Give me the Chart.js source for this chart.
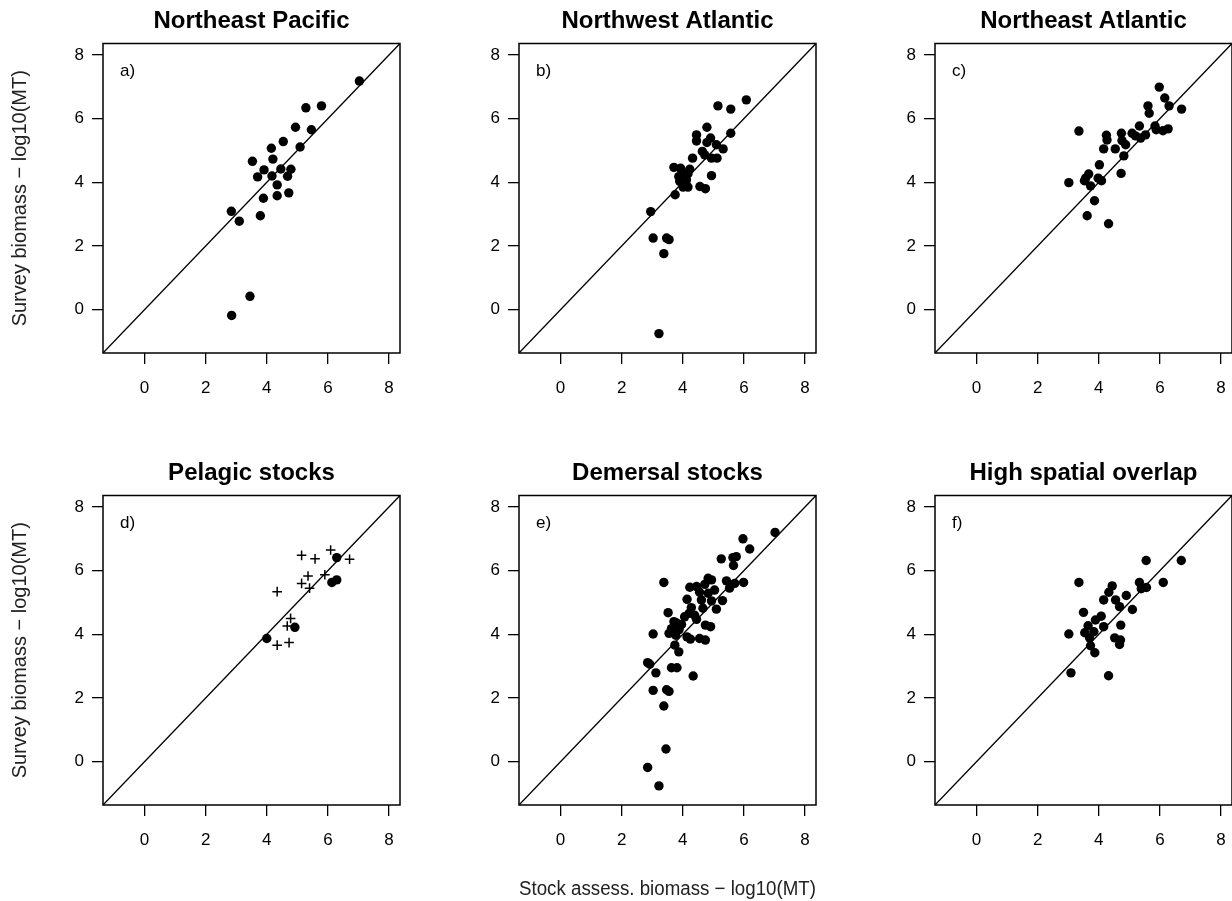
<!DOCTYPE html>
<html>
<head>
<meta charset="utf-8">
<title>Survey vs stock assessment biomass</title>
<script src="https://cdn.jsdelivr.net/npm/chart.js@4.4.0/dist/chart.umd.min.js"></script>
<style>
  body { margin: 0; background: #fff; width: 1232px; height: 901px; overflow: hidden; position: relative; }
  canvas { position: absolute; }
</style>
</head>
<body>
<canvas id="pa" width="503" height="452" style="left:0;top:0"></canvas>
<canvas id="pb" width="503" height="452" style="left:416px;top:0"></canvas>
<canvas id="pc" width="503" height="452" style="left:832px;top:0"></canvas>
<canvas id="pd" width="503" height="452" style="left:0;top:452px"></canvas>
<canvas id="pe" width="503" height="452" style="left:416px;top:452px"></canvas>
<canvas id="pf" width="503" height="452" style="left:832px;top:452px"></canvas>
<script>
// axis limits and ticks (same on every panel)
const axisMin = -1.36;
const axisMax = 8.36;
const tickValues = [0, 2, 4, 6, 8];
const letterX = -0.8;
const letterY = 7.5;

const xAxisTitle = 'Stock assess. biomass \u2212 log10(MT)';
const yAxisTitle = 'Survey biomass \u2212 log10(MT)';

// a) Northeast Pacific
const nePacificX = [7.03, 5.28, 5.79, 4.94, 5.46, 4.54, 5.09, 4.15, 4.20, 3.53, 3.91, 4.46, 4.79, 3.70, 4.17, 4.68, 4.34, 4.34, 4.72, 3.89, 2.84, 3.10, 3.79, 3.45, 2.85];
const nePacificY = [7.18, 6.34, 6.40, 5.73, 5.65, 5.28, 5.11, 5.07, 4.73, 4.66, 4.39, 4.42, 4.41, 4.17, 4.20, 4.19, 3.92, 3.58, 3.67, 3.50, 3.09, 2.78, 2.95, 0.42, -0.18];

// b) Northwest Atlantic
const nwAtlanticX = [6.08, 5.15, 5.57, 4.79, 4.45, 5.57, 4.45, 4.91, 4.79, 5.10, 5.32, 4.64, 4.72, 4.94, 5.12, 4.32, 3.71, 3.93, 4.23, 4.17, 3.87, 4.03, 4.94, 3.90, 4.10, 4.01, 4.17, 4.56, 4.74, 3.75, 2.95, 3.03, 3.47, 3.55, 3.38, 3.22, 3.98, 4.12];
const nwAtlanticY = [6.59, 6.40, 6.30, 5.73, 5.49, 5.54, 5.30, 5.39, 5.25, 5.18, 5.05, 4.97, 4.86, 4.76, 4.76, 4.76, 4.47, 4.44, 4.41, 4.27, 4.18, 4.13, 4.21, 4.03, 3.97, 3.85, 3.85, 3.87, 3.80, 3.61, 3.08, 2.25, 2.25, 2.20, 1.76, -0.75, 4.30, 4.08];

// c) Northeast Atlantic
const neAtlanticX = [5.98, 6.16, 5.61, 6.30, 6.71, 5.65, 3.35, 4.25, 4.74, 5.09, 5.33, 5.53, 5.84, 5.88, 6.10, 6.27, 5.37, 5.20, 4.27, 4.76, 4.88, 4.16, 4.54, 4.82, 4.02, 4.73, 3.67, 3.53, 3.98, 4.09, 3.02, 3.73, 3.86, 3.62, 4.32, 3.57];
const neAtlanticY = [6.99, 6.65, 6.40, 6.40, 6.30, 6.17, 5.61, 5.48, 5.54, 5.54, 5.77, 5.49, 5.77, 5.65, 5.62, 5.68, 5.39, 5.46, 5.33, 5.31, 5.18, 5.05, 5.05, 4.83, 4.55, 4.28, 4.26, 4.05, 4.13, 4.05, 3.99, 3.89, 3.42, 2.95, 2.70, 4.13];

// d) Pelagic stocks: crosses and dots
const pelagicCrossX = [5.14, 5.58, 6.09, 6.71, 5.35, 5.90, 5.14, 5.40, 4.34, 4.78, 4.67, 4.34, 4.73];
const pelagicCrossY = [6.48, 6.37, 6.65, 6.36, 5.83, 5.87, 5.60, 5.45, 5.34, 4.50, 4.26, 3.66, 3.74];
const pelagicDotX = [6.29, 6.13, 6.29, 4.92, 4.00];
const pelagicDotY = [6.41, 5.63, 5.71, 4.22, 3.87];

// e) Demersal stocks
const demersalX = [7.02, 5.97, 6.19, 5.26, 5.64, 5.75, 5.66, 3.38, 4.83, 4.94, 5.43, 5.99, 5.70, 4.23, 4.45, 4.72, 5.53, 4.55, 4.83, 5.04, 4.14, 4.61, 4.94, 5.30, 4.28, 4.66, 5.10, 3.52, 4.21, 4.45, 3.71, 3.96, 4.74, 4.91, 3.63, 3.88, 3.03, 3.55, 3.77, 4.14, 4.25, 4.55, 4.74, 3.74, 3.87, 2.85, 2.92, 3.12, 3.63, 3.81, 4.34, 3.03, 3.47, 3.55, 3.38, 3.45, 2.85, 3.22, 3.79, 4.06, 4.39];
const demersalY = [7.20, 7.00, 6.68, 6.37, 6.41, 6.44, 6.16, 5.63, 5.76, 5.71, 5.68, 5.63, 5.60, 5.48, 5.50, 5.57, 5.45, 5.32, 5.29, 5.39, 5.10, 5.08, 5.05, 5.06, 4.84, 4.82, 4.79, 4.68, 4.66, 4.47, 4.40, 4.31, 4.29, 4.24, 4.18, 4.15, 4.01, 4.03, 3.97, 3.92, 3.85, 3.87, 3.82, 3.66, 3.45, 3.11, 3.06, 2.79, 2.95, 2.95, 2.69, 2.24, 2.26, 2.21, 1.75, 0.40, -0.18, -0.76, 4.36, 4.55, 4.60];

// f) High spatial overlap
const overlapX = [5.55, 6.70, 3.35, 4.44, 5.33, 6.11, 5.39, 5.56, 4.33, 4.90, 4.16, 4.55, 4.68, 5.10, 3.50, 4.08, 3.89, 3.65, 4.16, 4.72, 3.02, 3.54, 3.84, 3.70, 4.52, 4.71, 4.68, 3.73, 3.87, 3.09, 4.32];
const overlapY = [6.32, 6.32, 5.63, 5.52, 5.63, 5.63, 5.43, 5.47, 5.32, 5.22, 5.08, 5.08, 4.87, 4.78, 4.69, 4.57, 4.45, 4.27, 4.24, 4.29, 4.01, 4.05, 4.08, 3.89, 3.89, 3.82, 3.68, 3.64, 3.42, 2.79, 2.70];

const FONT = '"Liberation Sans", Arial, sans-serif';

function toPoints(xs, ys) {
  return xs.map((x, i) => ({ x: x, y: ys[i] }));
}

// box around plot region + panel letter
const boxPlugin = {
  id: 'box',
  afterDraw(chart, args, opts) {
    const { ctx, chartArea: a, scales } = chart;
    ctx.save();
    ctx.strokeStyle = '#000';
    ctx.lineWidth = 1.5;
    ctx.strokeRect(a.left, a.top, a.right - a.left, a.bottom - a.top);
    ctx.font = '17px ' + FONT;
    ctx.fillStyle = '#000';
    ctx.textBaseline = 'middle';
    ctx.fillText(opts.letter, scales.x.getPixelForValue(letterX), scales.y.getPixelForValue(letterY));
    ctx.restore();
  }
};

function dotSet(points) {
  return {
    data: points,
    backgroundColor: '#000',
    borderWidth: 0,
    pointRadius: 4.7,
    order: 1
  };
}

function makePanel(id, title, letter, sets, showYTitle, showXTitle) {
  const diagonal = {
    data: [{ x: axisMin, y: axisMin }, { x: axisMax, y: axisMax }],
    showLine: true,
    pointRadius: 0,
    borderColor: '#000',
    borderWidth: 1.3,
    order: 2
  };
  return new Chart(document.getElementById(id), {
    type: 'scatter',
    data: { datasets: [diagonal].concat(sets) },
    plugins: [boxPlugin],
    options: {
      responsive: false,
      devicePixelRatio: 1,
      animation: false,
      layout: { padding: 0 },
      plugins: {
        legend: { display: false },
        tooltip: { enabled: false },
        title: {
          display: true,
          text: title,
          color: '#000',
          font: { family: FONT, size: 24, weight: 'bold' },
          padding: { top: 7, bottom: 7.7 }
        },
        box: { letter: letter }
      },
      scales: {
        x: {
          type: 'linear',
          min: axisMin,
          max: axisMax,
          afterBuildTicks: (s) => { s.ticks = tickValues.map(v => ({ value: v })); },
          afterFit: (s) => { s.height = 99; },
          grid: { drawOnChartArea: false, drawTicks: true, tickLength: 11, color: '#000', lineWidth: 1.3 },
          border: { display: false },
          ticks: { color: '#000', padding: 14, font: { family: FONT, size: 17 }, maxRotation: 0 },
          title: {
            display: showXTitle,
            text: xAxisTitle,
            color: '#222',
            font: { family: FONT, size: 20 },
            padding: { top: 0, bottom: 3 }
          }
        },
        y: {
          type: 'linear',
          min: axisMin,
          max: axisMax,
          afterBuildTicks: (s) => { s.ticks = tickValues.map(v => ({ value: v })); },
          afterFit: (s) => { s.width = 103; },
          grid: { drawOnChartArea: false, drawTicks: true, tickLength: 11, color: '#000', lineWidth: 1.3 },
          border: { display: false },
          ticks: { color: '#000', padding: 8, font: { family: FONT, size: 17 } },
          title: {
            display: showYTitle,
            text: yAxisTitle,
            color: '#222',
            font: { family: FONT, size: 20 },
            padding: { top: 8, bottom: 0 }
          }
        },
        // empty right margin so the title centres over the plot box
        yRight: {
          type: 'linear',
          axis: 'y',
          position: 'right',
          min: axisMin,
          max: axisMax,
          afterFit: (s) => { s.width = 103; },
          grid: { display: false },
          border: { display: false },
          ticks: { display: false }
        }
      }
    }
  });
}

makePanel('pa', 'Northeast Pacific', 'a)', [dotSet(toPoints(nePacificX, nePacificY))], true, false);
makePanel('pb', 'Northwest Atlantic', 'b)', [dotSet(toPoints(nwAtlanticX, nwAtlanticY))], false, false);
makePanel('pc', 'Northeast Atlantic', 'c)', [dotSet(toPoints(neAtlanticX, neAtlanticY))], false, false);
makePanel('pd', 'Pelagic stocks', 'd)', [
  dotSet(toPoints(pelagicDotX, pelagicDotY)),
  {
    data: toPoints(pelagicCrossX, pelagicCrossY),
    pointStyle: 'cross',
    pointRadius: 4.8,
    borderColor: '#000',
    borderWidth: 1.5,
    order: 0
  }
], true, false);
makePanel('pe', 'Demersal stocks', 'e)', [dotSet(toPoints(demersalX, demersalY))], false, true);
makePanel('pf', 'High spatial overlap', 'f)', [dotSet(toPoints(overlapX, overlapY))], false, false);
</script>
</body>
</html>
